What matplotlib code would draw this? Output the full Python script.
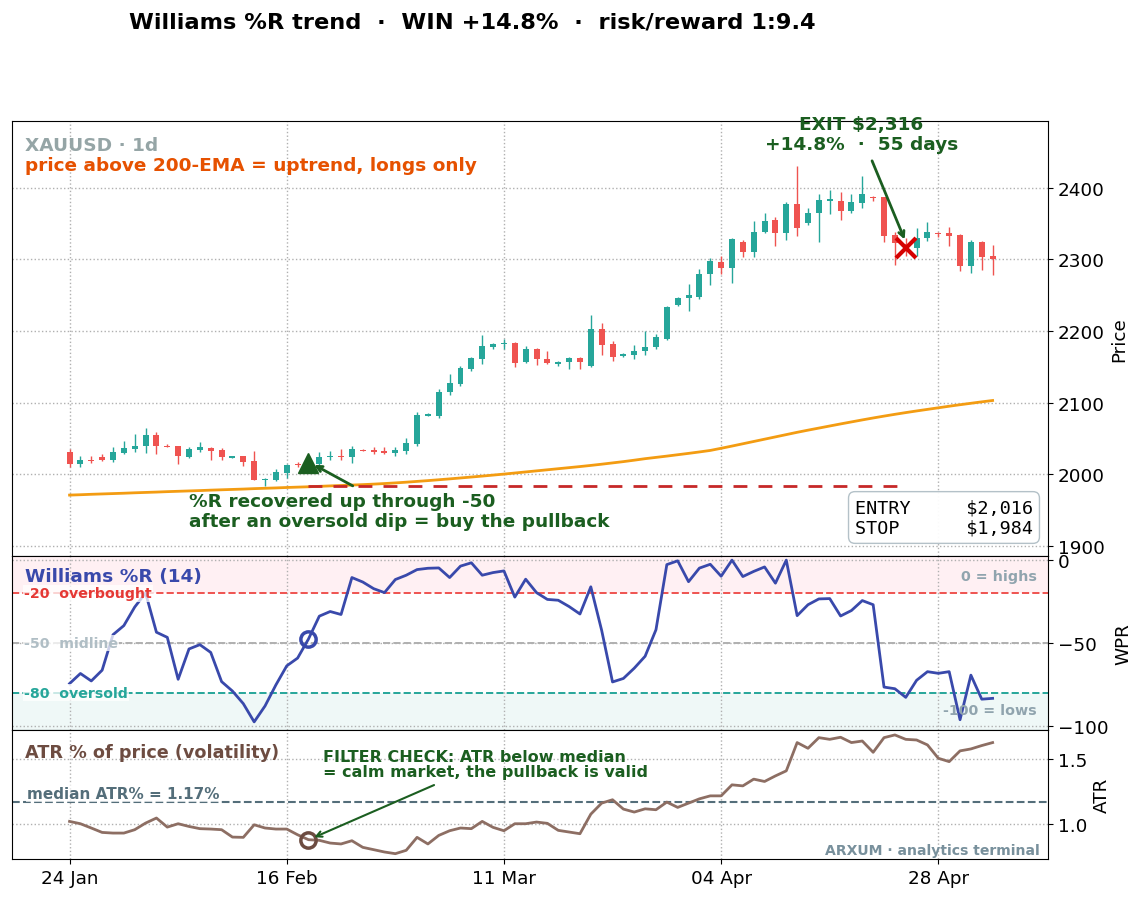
import numpy as np
import matplotlib
matplotlib.use('Agg')
import matplotlib.pyplot as plt

# ---- data (daily bars, index 0..85) ----
opens = [2030.6, 2014.3, 2020.3, 2024.6, 2020.3, 2029.7, 2035.0, 2039.0, 2054.9, 2040.0,
         2039.0, 2024.6, 2034.3, 2036.7, 2034.3, 2023.0, 2025.0, 2018.0, 1992.0, 1992.4,
         2001.7, 2013.9, 2012.0, 2014.3, 2023.6, 2026.0, 2023.6, 2033.9, 2033.9, 2032.0,
         2029.2, 2033.0, 2042.3, 2081.9, 2081.9, 2114.6, 2126.2, 2146.3, 2160.3, 2178.0,
         2181.7, 2183.6, 2156.5, 2175.2, 2161.2, 2154.2, 2156.5, 2162.1, 2150.9, 2203.2,
         2182.2, 2164.9, 2166.8, 2171.5, 2178.0, 2189.2, 2236.7, 2246.0, 2247.5, 2280.1,
         2296.5, 2288.1, 2323.5, 2310.5, 2338.4, 2354.8, 2336.1, 2376.7, 2351.0, 2364.1,
         2381.3, 2381.8, 2367.4, 2378.1, 2387.4, 2386.5, 2333.8, 2322.0, 2316.0, 2330.0,
         2336.1, 2336.1, 2333.8, 2290.9, 2323.5, 2304.0]
highs = [2035.3, 2025.0, 2026.0, 2028.3, 2037.6, 2047.0, 2056.0, 2064.2, 2058.6, 2042.0,
         2039.5, 2037.6, 2044.6, 2037.6, 2036.2, 2026.0, 2026.0, 2032.0, 1994.2, 2007.3,
         2014.3, 2016.6, 2020.0, 2030.6, 2033.0, 2035.3, 2040.0, 2035.3, 2037.6, 2038.5,
         2037.6, 2050.2, 2087.5, 2085.6, 2119.2, 2140.2, 2151.0, 2163.5, 2193.8, 2182.7,
         2189.2, 2184.5, 2178.5, 2175.6, 2171.5, 2157.5, 2163.5, 2163.0, 2221.8, 2211.6,
         2185.5, 2168.6, 2179.9, 2200.4, 2196.2, 2234.9, 2247.5, 2265.2, 2287.1, 2302.0,
         2304.9, 2330.0, 2326.8, 2353.4, 2364.1, 2359.4, 2379.5, 2430.8, 2372.0, 2390.7,
         2397.2, 2394.4, 2390.7, 2416.8, 2388.8, 2387.4, 2337.5, 2330.0, 2344.0, 2352.5,
         2337.5, 2345.4, 2334.7, 2326.8, 2325.4, 2319.3]
lows = [2009.6, 2009.6, 2015.6, 2019.0, 2017.6, 2028.3, 2030.6, 2029.7, 2028.3, 2037.6,
        2014.3, 2022.2, 2031.5, 2020.3, 2020.3, 2022.6, 2012.0, 1991.5, 1984.0, 1991.0,
        1994.3, 2009.6, 2008.0, 2012.0, 2020.3, 2020.3, 2015.6, 2032.0, 2028.3, 2028.3,
        2025.0, 2028.3, 2039.0, 2081.0, 2078.2, 2110.8, 2123.9, 2143.5, 2154.2, 2175.2,
        2175.2, 2149.5, 2155.6, 2152.8, 2154.2, 2150.9, 2146.3, 2147.2, 2149.5, 2166.8,
        2157.5, 2164.0, 2160.3, 2166.8, 2174.3, 2186.9, 2234.9, 2228.0, 2245.2, 2264.8,
        2280.1, 2267.6, 2303.5, 2303.5, 2336.1, 2318.8, 2326.8, 2332.8, 2347.8, 2323.9,
        2362.7, 2354.8, 2364.1, 2372.0, 2381.3, 2324.4, 2291.4, 2305.0, 2305.0, 2325.4,
        2331.4, 2318.8, 2283.4, 2281.5, 2284.8, 2277.8]
closes = [2014.3, 2020.3, 2018.0, 2020.3, 2031.5, 2036.7, 2040.0, 2054.9, 2039.0, 2038.6,
          2025.0, 2035.3, 2037.6, 2033.0, 2023.6, 2025.0, 2017.6, 1992.0, 1993.3, 2003.6,
          2012.9, 2013.0, 2016.0, 2023.6, 2026.0, 2023.6, 2035.3, 2033.0, 2030.6, 2029.7,
          2033.9, 2043.7, 2082.8, 2083.8, 2115.5, 2127.2, 2148.1, 2162.1, 2178.9, 2181.7,
          2183.6, 2155.6, 2175.2, 2160.3, 2155.1, 2156.5, 2162.1, 2156.5, 2203.2, 2180.8,
          2163.5, 2167.7, 2171.9, 2178.0, 2191.1, 2233.0, 2246.0, 2249.8, 2280.1, 2297.4,
          2288.1, 2328.2, 2310.5, 2338.4, 2353.8, 2336.1, 2376.7, 2343.1, 2364.1, 2382.7,
          2383.7, 2367.4, 2379.5, 2390.7, 2385.1, 2332.4, 2322.1, 2316.0, 2330.0, 2337.5,
          2334.7, 2332.8, 2290.9, 2323.5, 2303.5, 2301.1]
ema200 = [1971.0, 1971.5, 1972.1, 1972.6, 1973.1, 1973.6, 1974.2, 1974.7, 1975.2, 1975.8,
          1976.3, 1976.8, 1977.3, 1977.9, 1978.4, 1978.9, 1979.4, 1980.0, 1980.5, 1981.0,
          1981.6, 1982.1, 1982.6, 1983.2, 1983.8, 1984.4, 1985.0, 1985.6, 1986.3, 1987.1,
          1988.0, 1989.0, 1990.1, 1991.2, 1992.4, 1993.6, 1994.9, 1996.2, 1997.5, 1998.9,
          2000.3, 2001.8, 2003.3, 2004.8, 2006.3, 2007.8, 2009.3, 2010.8, 2012.4, 2014.1,
          2015.9, 2017.7, 2019.7, 2021.8, 2023.6, 2025.4, 2027.3, 2029.2, 2031.2, 2033.3,
          2036.3, 2039.4, 2042.6, 2045.8, 2049.0, 2052.2, 2055.4, 2058.6, 2061.6, 2064.5,
          2067.4, 2070.3, 2073.1, 2075.9, 2078.6, 2081.2, 2083.7, 2086.1, 2088.4, 2090.6,
          2092.8, 2095.0, 2097.1, 2099.1, 2101.1, 2103.0]
wpr = [-74.5, -68.4, -72.9, -66.4, -45.0, -39.5, -28.3, -19.8, -43.5, -46.6,
       -71.9, -53.6, -51.0, -55.7, -73.3, -79.0, -86.6, -97.6, -88.0, -75.3,
       -63.8, -59.1, -47.6, -33.8, -31.0, -32.8, -10.5, -13.2, -17.2, -19.6,
       -11.7, -9.1, -5.7, -4.9, -4.7, -10.5, -3.6, -1.6, -9.1, -7.5,
       -6.5, -22.3, -11.5, -19.6, -23.7, -24.2, -28.0, -32.5, -16.1, -42.4,
       -73.5, -71.4, -65.2, -58.0, -42.0, -2.7, -0.4, -13.0, -4.8, -2.5,
       -9.7, 0.0, -9.9, -6.8, -4.1, -13.9, 0.0, -33.5, -26.9, -23.4,
       -23.2, -33.7, -30.4, -24.4, -26.9, -76.6, -77.6, -82.8, -72.5, -67.3,
       -68.3, -67.3, -96.3, -69.4, -83.9, -83.4]
atr_pct = [1.018, 1.000, 0.967, 0.933, 0.928, 0.928, 0.954, 1.005, 1.044, 0.974,
           1.000, 0.979, 0.962, 0.959, 0.954, 0.897, 0.895, 0.992, 0.967, 0.959,
           0.959, 0.915, 0.877, 0.872, 0.851, 0.844, 0.869, 0.818, 0.800, 0.782,
           0.769, 0.795, 0.895, 0.844, 0.910, 0.946, 0.967, 0.962, 1.018, 0.972,
           0.946, 1.000, 1.000, 1.013, 1.003, 0.949, 0.936, 0.923, 1.074, 1.159,
           1.185, 1.113, 1.090, 1.115, 1.108, 1.167, 1.126, 1.159, 1.192, 1.215,
           1.215, 1.300, 1.292, 1.344, 1.326, 1.369, 1.408, 1.626, 1.582, 1.664,
           1.651, 1.667, 1.626, 1.638, 1.551, 1.664, 1.685, 1.651, 1.646, 1.608,
           1.505, 1.479, 1.562, 1.577, 1.603, 1.626]
tick_labels = ['24 Jan', '16 Feb', '11 Mar', '04 Apr', '28 Apr']
entry_idx, exit_idx = 22, 77
entry_px, stop_px, exit_px = 2016, 1984, 2316
atr_median = 1.17

UP, DOWN = '#26a69a', '#ef5350'
DKGREEN = '#1b5e20'

x = np.arange(len(closes))
W, H = 1147, 903
fig = plt.figure(figsize=(W / 100, H / 100), dpi=100)

def px_axes(l, t, r, b):
    return fig.add_axes([l / W, 1 - b / H, (r - l) / W, (b - t) / H])

ax1 = px_axes(12, 122, 1048, 557)
ax2 = px_axes(12, 557, 1048, 731)
ax3 = px_axes(12, 731, 1048, 860)

fig.text(472 / W, 1 - 22 / H, 'Williams %R trend  ·  WIN +14.8%  ·  risk/reward 1:9.4',
         ha='center', va='center', fontsize=16.2, fontweight='bold')

# ---- price panel ----
for i in x:
    o, h, l, c = opens[i], highs[i], lows[i], closes[i]
    col = UP if c >= o else DOWN
    ax1.vlines(i, l, h, color=col, lw=1, zorder=2)
    ax1.bar(i, max(abs(c - o), 0.8), bottom=min(o, c), width=0.55, color=col, zorder=3)
ax1.plot(x, ema200, color='#f39c12', lw=2, zorder=2)
ax1.hlines(stop_px, entry_idx, exit_idx, colors='#c62828', linestyles=(0, (5, 4)), lw=2, zorder=2)
ax1.plot(entry_idx, entry_px, marker='^', ms=15, color=DKGREEN, zorder=5)
ax1.plot(exit_idx, exit_px, marker='x', ms=14, mew=3, color='#d50000', zorder=5)

ax1.annotate('', xy=(entry_idx + 0.3, entry_px - 1), xytext=(26.3, 1982),
             arrowprops=dict(arrowstyle='->', color=DKGREEN, lw=2), zorder=6)
ax1.text(11.0, 1949, '%R recovered up through -50\nafter an oversold dip = buy the pullback',
         ha='left', va='center', fontsize=13.3, fontweight='bold', color=DKGREEN, linespacing=1.1)
ax1.annotate('', xy=(exit_idx, exit_px + 8), xytext=(73.8, 2441),
             arrowprops=dict(arrowstyle='->', color=DKGREEN, lw=2), zorder=6)
ax1.text(72.9, 2475, 'EXIT $2,316\n+14.8%  ·  55 days', ha='center', va='center',
         fontsize=13.3, fontweight='bold', color=DKGREEN, linespacing=1.1)

ax1.text(0.0125, 0.945, 'XAUUSD · 1d', transform=ax1.transAxes, fontsize=13.3,
         fontweight='bold', color='#95a5a6', va='center')
ax1.text(0.0125, 0.899, 'price above 200-EMA = uptrend, longs only', transform=ax1.transAxes,
         fontsize=13.3, fontweight='bold', color='#e65100', va='center')
ax1.text(0.8137, 0.0885, 'ENTRY     $2,016\nSTOP      $1,984', transform=ax1.transAxes,
         fontsize=13.3, family='DejaVu Sans Mono', va='center', ha='left', zorder=7,
         bbox=dict(boxstyle='round,pad=0.35', fc='white', ec='#b0bec5', alpha=0.95))

ax1.set_ylim(1886, 2493)
ax1.set_ylabel('Price', fontsize=13.2)

# ---- Williams %R panel ----
ax2.axhspan(-20, 5, color='#ffebee', alpha=0.7, lw=0, zorder=0)
ax2.axhspan(-110, -80, color='#e0f2f1', alpha=0.5, lw=0, zorder=0)
ax2.axhline(-20, color='#ef5350', ls='--', lw=1.4, zorder=1)
ax2.axhline(-50, color='#b0b0b0', ls='--', lw=1.4, zorder=1)
ax2.axhline(-80, color='#26a69a', ls='--', lw=1.4, zorder=1)
ax2.plot(x, wpr, color='#3949ab', lw=2, zorder=3)
ax2.plot(entry_idx, wpr[entry_idx], marker='o', ms=11, mfc='none', mec='#3949ab', mew=2.5, zorder=4)
lab_box = dict(fc='white', ec='none', alpha=0.75, pad=1)
for yv, txt, col in [(-20, '-20  overbought', '#e53935'), (-50, '-50  midline', '#b0bec5'),
                     (-80, '-80  oversold', '#26a69a')]:
    ax2.text(-4.2, yv, txt, fontsize=10.2, fontweight='bold', color=col, va='center',
             ha='left', bbox=lab_box, zorder=5)
ax2.text(0.0125, 0.885, 'Williams %R (14)', transform=ax2.transAxes, fontsize=13.3,
         fontweight='bold', color='#3949ab', va='center')
ax2.text(0.9894, 0.885, '0 = highs', transform=ax2.transAxes, fontsize=10.3,
         fontweight='bold', color='#90a4ae', va='center', ha='right')
ax2.text(0.9894, 0.115, '-100 = lows', transform=ax2.transAxes, fontsize=10.3,
         fontweight='bold', color='#90a4ae', va='center', ha='right')
ax2.set_ylim(-102.5, 2.5)
ax2.set_yticks([0, -50, -100])
ax2.set_ylabel('WPR', fontsize=13.2)

# ---- ATR panel ----
ax3.axhline(atr_median, color='#546e7a', ls='--', lw=1.5, zorder=1)
ax3.plot(x, atr_pct, color='#8d6e63', lw=2, zorder=3)
ax3.plot(entry_idx, atr_pct[entry_idx], marker='o', ms=11, mfc='none', mec='#6d4c41', mew=2.5, zorder=4)
ax3.text(-3.9, 1.237, 'median ATR% = 1.17%', fontsize=11, fontweight='bold', color='#546e7a',
         va='center', ha='left', bbox=dict(fc='white', ec='none', alpha=0.7, pad=1), zorder=5)
ax3.text(0.0125, 0.829, 'ATR % of price (volatility)', transform=ax3.transAxes, fontsize=12.7,
         fontweight='bold', color='#6d4c41', va='center')
ax3.annotate('', xy=(entry_idx + 0.3, atr_pct[entry_idx] + 0.01), xytext=(33.8, 1.307),
             arrowprops=dict(arrowstyle='->', color=DKGREEN, lw=1.5), zorder=6)
ax3.text(23.3, 1.463, 'FILTER CHECK: ATR below median\n= calm market, the pullback is valid',
         ha='left', va='center', fontsize=11.5, fontweight='bold', color=DKGREEN, linespacing=1.0)
ax3.text(0.992, 0.07, 'ARXUM · analytics terminal', transform=ax3.transAxes, fontsize=10.1,
         fontweight='bold', color='#78909c', va='center', ha='right')
ax3.set_ylim(0.728, 1.723)
ax3.set_yticks([1.0, 1.5])
ax3.set_ylabel('ATR', fontsize=13.2)

for ax in (ax1, ax2, ax3):
    ax.set_xlim(-5.3, 90.1)
    ax.set_xticks(range(0, len(closes), 20))
    ax.grid(True, ls=':', color='#b0b0b0', lw=1)
    ax.set_axisbelow(True)
    ax.yaxis.tick_right()
    ax.yaxis.set_label_position('right')
    ax.tick_params(labelsize=13.2)
for ax in (ax1, ax2):
    ax.tick_params(labelbottom=False)
ax3.set_xticklabels(tick_labels)

fig.savefig('out.png', dpi=100)
